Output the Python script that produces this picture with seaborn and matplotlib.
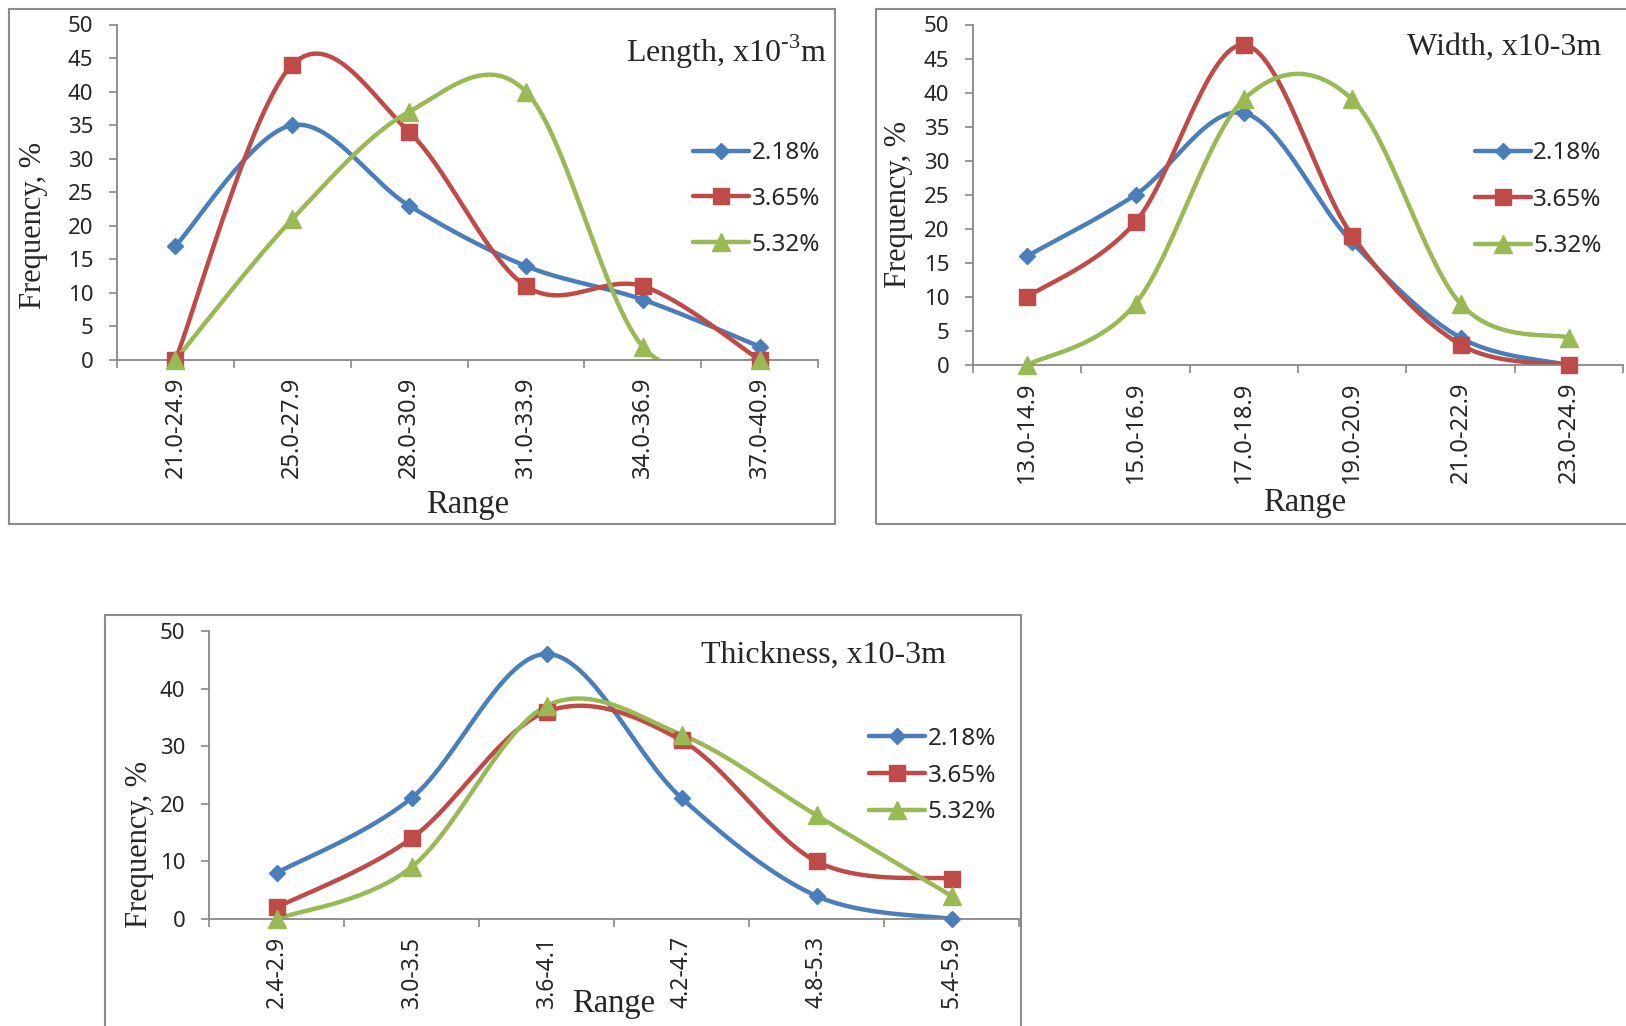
import numpy as np
import matplotlib
matplotlib.use("Agg")
import matplotlib.pyplot as plt
from matplotlib.patches import Rectangle
from matplotlib.lines import Line2D
import seaborn as sns

# ---------------- data ----------------
series_names = ["2.18%", "3.65%", "5.32%"]

length_cats = ["21.0-24.9", "25.0-27.9", "28.0-30.9", "31.0-33.9", "34.0-36.9", "37.0-40.9"]
length_218 = [17, 35, 23, 14, 9, 2]
length_365 = [0, 44, 34, 11, 11, 0]
length_532 = [0, 21, 37, 40, 2, 0]

width_cats = ["13.0-14.9", "15.0-16.9", "17.0-18.9", "19.0-20.9", "21.0-22.9", "23.0-24.9"]
width_218 = [16, 25, 37, 18, 4, 0]
width_365 = [10, 21, 47, 19, 3, 0]
width_532 = [0, 9, 39, 39, 9, 4]

thick_cats = ["2.4-2.9", "3.0-3.5", "3.6-4.1", "4.2-4.7", "4.8-5.3", "5.4-5.9"]
thick_218 = [8, 21, 46, 21, 4, 0]
thick_365 = [2, 14, 36, 31, 10, 7]
thick_532 = [0, 9, 37, 32, 18, 4]

# ---------------- style ----------------
sns.set_theme(style="white")
plt.rcParams["font.family"] = ["Noto Sans", "DejaVu Sans"]
plt.rcParams["mathtext.fontset"] = "custom"
plt.rcParams["mathtext.rm"] = "Liberation Serif"
SERIF = ["Liberation Serif", "DejaVu Serif"]
COLORS = ["#4A7EBB", "#BE4B48", "#98B954"]
MARKERS = ["D", "s", "^"]
MSIZES = [8.5, 11.5, 12.5]
GRAY = "#878787"


def excel_smooth(y, n=60):
    """Excel-style smoothed line (Bezier through points)."""
    pts = np.column_stack([np.arange(len(y), dtype=float), np.asarray(y, float)])
    out = []
    t = np.linspace(0, 1, n)[:, None]
    for i in range(len(pts) - 1):
        p0 = pts[i - 1] if i > 0 else pts[i]
        p1, p2 = pts[i], pts[i + 1]
        p3 = pts[i + 2] if i + 2 < len(pts) else pts[i + 1]
        c1 = p1 + (p2 - p0) / 6.0
        c2 = p2 - (p3 - p1) / 6.0
        seg = ((1 - t) ** 3) * p1 + 3 * ((1 - t) ** 2) * t * c1 + 3 * (1 - t) * t ** 2 * c2 + t ** 3 * p2
        out.append(seg if i == 0 else seg[1:])
    seg = np.vstack(out)
    return seg[:, 0], seg[:, 1]


fig = plt.figure(figsize=(16.26, 10.26), dpi=100)
W, H = 1626.0, 1026.0


def fig_rect(x0, y0, x1, y1):
    return [x0 / W, 1 - y1 / H, (x1 - x0) / W, (y1 - y0) / H]


panels = [
    dict(cats=length_cats, vals=[length_218, length_365, length_532],
         title="Length, x10$^{\\text{-3}}$m", ax=(117, 24.5, 818, 360),
         frame=(9, 9, 835, 524), ystep=5, title_xy=(827, 52),
         leg=(0.822, 0.48), legspace=0.9, xts=17, xl=(0.5, -0.43), yl=(-0.119, 0.40)),
    dict(cats=width_cats, vals=[width_218, width_365, width_532],
         title="Width, x10-3m", ax=(973, 24.5, 1623, 365),
         frame=(876, 9, 1640, 524), ystep=5, title_xy=(1601, 47),
         leg=(0.772, 0.485), legspace=0.92, xts=17, xl=(0.51, -0.405), yl=(-0.114, 0.47)),
    dict(cats=thick_cats, vals=[thick_218, thick_365, thick_532],
         title="Thickness, x10-3m", ax=(209, 631, 1019, 919),
         frame=(105, 615, 1021, 1040), ystep=10, title_xy=(946, 655),
         leg=(0.815, 0.498), legspace=0.52, xts=16.5, xl=(0.5, -0.295), yl=(-0.086, 0.26)),
]

for p in panels:
    ax = fig.add_axes(fig_rect(*p["ax"]))
    n = len(p["cats"])
    for vals, col, mk, ms in zip(p["vals"], COLORS, MARKERS, MSIZES):
        sx, sy = excel_smooth(vals)
        sns.lineplot(x=sx, y=sy, sort=False, estimator=None, color=col, lw=3.2, ax=ax,
                     solid_capstyle="round")
        ax.plot(np.arange(n), vals, linestyle="none", marker=mk, ms=ms, color=col,
                mec=col, clip_on=False, zorder=4)
    ax.set_xlim(-0.5, n - 0.5)
    ax.set_ylim(0, 50)
    ax.set_yticks(np.arange(0, 51, p["ystep"]))
    ax.set_xticks(np.arange(n))
    ax.set_xticklabels(p["cats"], rotation=90, fontsize=p["xts"], va="top")
    ax.set_xticks(np.arange(n + 1) - 0.5, minor=True)
    ax.tick_params(axis="x", which="major", length=0, pad=12)
    ax.tick_params(axis="x", which="minor", length=6, width=1.2, color=GRAY, direction="out", bottom=True)
    ax.tick_params(axis="y", which="major", length=6, width=1.2, color=GRAY, direction="out",
                   left=True, labelsize=16, pad=11)
    for s in ["top", "right"]:
        ax.spines[s].set_visible(False)
    for s in ["left", "bottom"]:
        ax.spines[s].set_color(GRAY)
        ax.spines[s].set_linewidth(1.3)
    ax.set_xlabel("Range", family=SERIF, fontsize=23.5, va="center")
    ax.xaxis.set_label_coords(*p["xl"])
    ax.set_ylabel("Frequency, %", family=SERIF, fontsize=22, va="center")
    ax.yaxis.set_label_coords(*p["yl"])
    ax.set_facecolor("none")

    handles = [Line2D([], [], color=c, lw=3.2, marker=m, ms=s, solid_capstyle="round")
               for c, m, s in zip(COLORS, MARKERS, MSIZES)]
    ax.legend(handles, series_names, loc="center left", bbox_to_anchor=p["leg"],
              frameon=False, fontsize=17.5, handlelength=2.3, handletextpad=0.1,
              labelspacing=p["legspace"], borderpad=0, borderaxespad=0)

    fig.text(p["title_xy"][0] / W, 1 - p["title_xy"][1] / H, p["title"], family=SERIF,
             fontsize=23, ha="right", va="center")

    x0, y0, x1, y1 = p["frame"]
    fig.add_artist(Rectangle((x0 / W, 1 - y1 / H), (x1 - x0) / W, (y1 - y0) / H,
                             transform=fig.transFigure, fill=False, ec="#8c8c8c", lw=1.5))

fig.savefig("out.png", dpi=100, facecolor="white")
